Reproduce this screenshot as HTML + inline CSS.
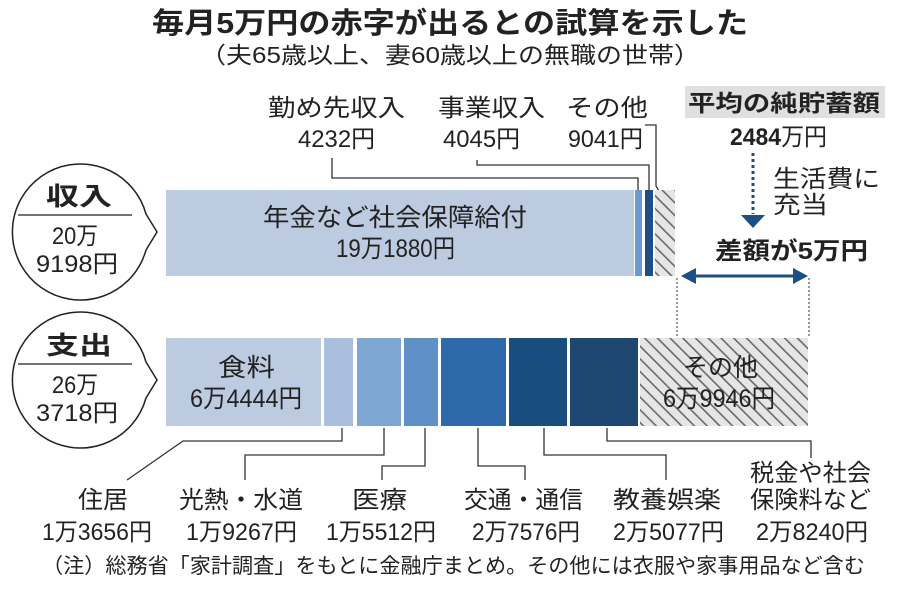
<!DOCTYPE html>
<html><head><meta charset="utf-8"><style>
body{margin:0;background:#fff;}
svg{display:block;font-family:"Liberation Sans","Noto Sans CJK JP",sans-serif;}
</style></head><body>
<svg width="900" height="592" viewBox="0 0 900 592" xmlns="http://www.w3.org/2000/svg">
<defs>
<pattern id="h" width="9" height="9" patternUnits="userSpaceOnUse" patternTransform="rotate(-45)">
<rect width="9" height="9" fill="#e6e6e6"/>
<rect x="0" y="0" width="1.6" height="9" fill="#6a6a6a"/>
</pattern>
</defs>
<g fill="#222" lengthAdjust="spacingAndGlyphs">
<text x="152" y="33" font-size="29" font-weight="bold" textLength="596" lengthAdjust="spacingAndGlyphs">毎月5万円の赤字が出るとの試算を示した</text>
<text x="200" y="63" font-size="23" textLength="500" lengthAdjust="spacingAndGlyphs">（夫65歳以上、妻60歳以上の無職の世帯）</text>
</g>
<!-- income labels -->
<g fill="#222" font-size="24">
<text x="268" y="116" textLength="137" lengthAdjust="spacingAndGlyphs">勤め先収入</text><text x="298" y="147" textLength="77" lengthAdjust="spacingAndGlyphs">4232円</text>
<text x="438" y="116" textLength="107" lengthAdjust="spacingAndGlyphs">事業収入</text><text x="443" y="147" textLength="77" lengthAdjust="spacingAndGlyphs">4045円</text>
<text x="566" y="116" textLength="82" lengthAdjust="spacingAndGlyphs">その他</text><text x="568" y="147" textLength="75" lengthAdjust="spacingAndGlyphs">9041円</text>
</g>
<g fill="none" stroke="#333" stroke-width="1.3">
<polyline points="332,158 332,178 638,178 638,190"/>
<polyline points="477,160 477,165 649,165 649,190"/>
<polyline points="645,125 656,125 656,186 662,196"/>
</g>
<!-- income bar -->
<rect x="166" y="190" width="468" height="86" fill="#bccbe0"/>
<rect x="635" y="190" width="7" height="86" fill="#6a9bd0"/>
<rect x="645" y="190" width="8" height="86" fill="#1d4f82"/>
<rect x="655" y="190" width="20" height="86" fill="url(#h)"/>
<g fill="#222" font-size="25">
<text x="263" y="226" textLength="264" lengthAdjust="spacingAndGlyphs">年金など社会保障給付</text>
<text x="336" y="257" textLength="119" lengthAdjust="spacingAndGlyphs">19万1880円</text>
</g>
<!-- expense bar -->
<rect x="166" y="338" width="155" height="88" fill="#bccbe0"/>
<rect x="324" y="338" width="29" height="88" fill="#a9bfdd"/>
<rect x="357" y="338" width="44" height="88" fill="#7ea6d2"/>
<rect x="404" y="338" width="34" height="88" fill="#5f91c8"/>
<rect x="441" y="338" width="65" height="88" fill="#2e69ac"/>
<rect x="509" y="338" width="58" height="88" fill="#184d80"/>
<rect x="570" y="338" width="68" height="88" fill="#1d4670"/>
<rect x="640" y="338" width="168" height="88" fill="url(#h)"/>
<g fill="#222" font-size="25">
<text x="218" y="376" textLength="57" lengthAdjust="spacingAndGlyphs">食料</text><text x="190" y="407" textLength="112" lengthAdjust="spacingAndGlyphs">6万4444円</text>
<text x="683" y="376" textLength="75" lengthAdjust="spacingAndGlyphs">その他</text><text x="663" y="407" textLength="112" lengthAdjust="spacingAndGlyphs">6万9946円</text>
</g>
<!-- bubbles -->
<g fill="#fff" stroke="#222" stroke-width="1.5">
<path d="M146,214 A68,68 0 1 0 146,250 L157,232 Z"/>
<path d="M146,362 A68,68 0 1 0 146,398 L157,380 Z"/>
</g>
<g stroke="#222" stroke-width="1.3"><line x1="18" y1="215" x2="132" y2="215"/><line x1="18" y1="364" x2="132" y2="364"/></g>
<g fill="#222">
<text x="46" y="205" font-size="25" font-weight="bold" textLength="66" lengthAdjust="spacingAndGlyphs">収入</text>
<text x="52" y="244" font-size="24" textLength="46" lengthAdjust="spacingAndGlyphs">20万</text><text x="36" y="272" font-size="24" textLength="82" lengthAdjust="spacingAndGlyphs">9198円</text>
<text x="46" y="354" font-size="25" font-weight="bold" textLength="66" lengthAdjust="spacingAndGlyphs">支出</text>
<text x="52" y="393" font-size="24" textLength="46" lengthAdjust="spacingAndGlyphs">26万</text><text x="36" y="421" font-size="24" textLength="82" lengthAdjust="spacingAndGlyphs">3718円</text>
</g>
<!-- right annotations -->
<rect x="685" y="86" width="200" height="32" fill="#e0e0e0"/>
<g fill="#222">
<text x="688" y="111" font-size="23" font-weight="bold" textLength="192" lengthAdjust="spacingAndGlyphs">平均の純貯蓄額</text>
<text x="730" y="145" font-size="24" textLength="97" lengthAdjust="spacingAndGlyphs"><tspan font-weight="bold">2484</tspan>万円</text>
<text x="715" y="259" font-size="24" font-weight="bold" textLength="153" lengthAdjust="spacingAndGlyphs">差額が5万円</text>
</g>
<g fill="#222" font-size="24"><text x="773" y="187" textLength="107" lengthAdjust="spacingAndGlyphs">生活費に</text><text x="773" y="213" textLength="55" lengthAdjust="spacingAndGlyphs">充当</text></g>
<line x1="753" y1="153" x2="753" y2="214" stroke="#1d4f82" stroke-width="3" stroke-dasharray="3,3"/>
<polygon points="741,215 765,215 753,228" fill="#1d4f82"/>
<line x1="690" y1="276" x2="798" y2="276" stroke="#1d4f82" stroke-width="3"/>
<polygon points="681,276 696,268 696,284" fill="#1d4f82"/>
<polygon points="808,276 793,268 793,284" fill="#1d4f82"/>
<g stroke="#555" stroke-width="1.2" stroke-dasharray="2,2">
<line x1="677" y1="278" x2="677" y2="338"/><line x1="809" y1="278" x2="809" y2="338"/>
</g>
<!-- bottom leaders -->
<g fill="none" stroke="#333" stroke-width="1.3">
<polyline points="342,428 342,441 183,441 127,480"/>
<polyline points="384,428 384,455 245,455 245,480"/>
<polyline points="425,428 425,466 382,466 382,480"/>
<polyline points="478,428 478,466 525,466 525,480"/>
<polyline points="544,428 544,455 666,455 666,480"/>
<polyline points="607,428 607,441 811,441 811,458"/>
</g>
<g fill="#222" font-size="24">
<text x="78" y="508" textLength="50" lengthAdjust="spacingAndGlyphs">住居</text><text x="42" y="540" textLength="110" lengthAdjust="spacingAndGlyphs">1万3656円</text>
<text x="179" y="508" textLength="124" lengthAdjust="spacingAndGlyphs">光熱・水道</text><text x="186" y="540" textLength="111" lengthAdjust="spacingAndGlyphs">1万9267円</text>
<text x="352" y="508" textLength="55" lengthAdjust="spacingAndGlyphs">医療</text><text x="326" y="540" textLength="110" lengthAdjust="spacingAndGlyphs">1万5512円</text>
<text x="464" y="508" textLength="119" lengthAdjust="spacingAndGlyphs">交通・通信</text><text x="472" y="540" textLength="108" lengthAdjust="spacingAndGlyphs">2万7576円</text>
<text x="613" y="508" textLength="108" lengthAdjust="spacingAndGlyphs">教養娯楽</text><text x="613" y="540" textLength="111" lengthAdjust="spacingAndGlyphs">2万5077円</text>
<text x="750" y="481" textLength="121" lengthAdjust="spacingAndGlyphs">税金や社会</text><text x="750" y="508" textLength="121" lengthAdjust="spacingAndGlyphs">保険料など</text><text x="756" y="540" textLength="112" lengthAdjust="spacingAndGlyphs">2万8240円</text>
</g>
<text x="42" y="573" font-size="21" fill="#222" textLength="823" lengthAdjust="spacingAndGlyphs">（注）総務省「家計調査」をもとに金融庁まとめ。その他には衣服や家事用品など含む</text>
</svg>
</body></html>
